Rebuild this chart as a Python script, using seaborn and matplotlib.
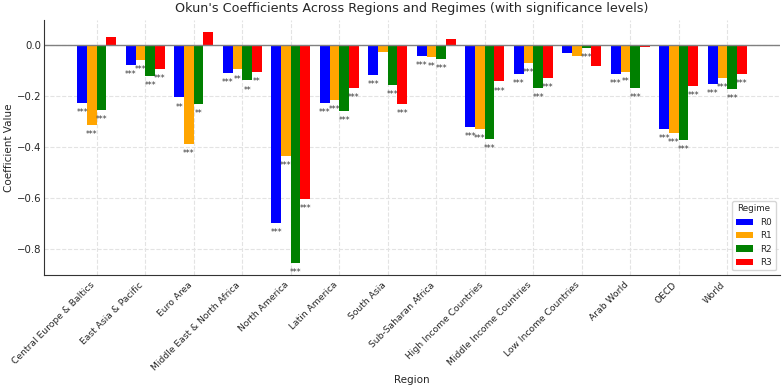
# Okun's coefficients by region and regime, with significance stars
import pandas as pd
import seaborn as sns
import matplotlib.pyplot as plt

regions = [
    "Central Europe & Baltics", "East Asia & Pacific", "Euro Area",
    "Middle East & North Africa", "North America", "Latin America",
    "South Asia", "Sub-Saharan Africa", "High Income Countries",
    "Middle Income Countries", "Low Income Countries", "Arab World",
    "OECD", "World",
]
regimes = ["R0", "R1", "R2", "R3"]
colors = ["blue", "orange", "green", "red"]

r0 = [-0.230, -0.080, -0.207, -0.110, -0.701, -0.227, -0.120, -0.043,
      -0.322, -0.116, -0.031, -0.116, -0.329, -0.154]
r1 = [-0.315, -0.061, -0.388, -0.097, -0.435, -0.216, -0.027, -0.048,
      -0.329, -0.072, -0.043, -0.106, -0.345, -0.131]
r2 = [-0.256, -0.122, -0.233, -0.140, -0.858, -0.260, -0.159, -0.056,
      -0.370, -0.170, -0.014, -0.171, -0.374, -0.174]
r3 = [0.031, -0.095, 0.052, -0.105, -0.607, -0.171, -0.234, 0.022,
      -0.144, -0.132, -0.085, -0.009, -0.163, -0.116]

sig0 = ["***", "***", "**", "***", "***", "***", "***", "***",
        "***", "***", "", "***", "***", "***"]
sig1 = ["***", "***", "***", "**", "***", "***", "", "**",
        "***", "***", "", "**", "***", "***"]
sig2 = ["***", "***", "**", "**", "***", "***", "***", "***",
        "***", "***", "***", "***", "***", "***"]
sig3 = ["", "***", "", "**", "***", "***", "***", "",
        "***", "***", "", "", "***", "***"]

values = [r0, r1, r2, r3]
sigs = [sig0, sig1, sig2, sig3]

rows = []
for regime, vals in zip(regimes, values):
    for region, v in zip(regions, vals):
        rows.append({"Region": region, "Regime": regime, "Coefficient Value": v})
df = pd.DataFrame(rows)

sns.set_style("whitegrid", {"grid.linestyle": "--", "grid.color": "#e3e3e3",
                            "axes.edgecolor": "#333333"})
plt.rcParams["font.family"] = ["DejaVu Sans"]

fig, ax = plt.subplots(figsize=(7.84, 3.91), dpi=100)
fig.subplots_adjust(left=0.056, right=0.995, top=0.949, bottom=0.297)

sns.barplot(data=df, x="Region", y="Coefficient Value", hue="Regime",
            hue_order=regimes, palette=colors, saturation=1, width=0.8,
            linewidth=0, ax=ax)

ax.axhline(0, color="gray", linewidth=1)

for container, sig in zip(ax.containers, sigs):
    for bar, s in zip(container, sig):
        if not s:
            continue
        h = bar.get_height()
        ax.text(bar.get_x() + bar.get_width() / 2, h - 0.02, s,
                ha="center", va="top", fontsize=5.5, color="#333333")

ax.set_xlim(-1.09, 14.09)
ax.set_ylim(-0.9035, 0.0975)
ax.set_yticks([0.0, -0.2, -0.4, -0.6, -0.8])
ax.tick_params(axis="x", labelsize=6.6, length=2, pad=2)
ax.tick_params(axis="y", labelsize=7.3, length=0, pad=2)
plt.setp(ax.get_xticklabels(), rotation=45, ha="right")
ax.set_xlabel("Region", fontsize=7.5, labelpad=2)
ax.set_ylabel("Coefficient Value", fontsize=7.5, labelpad=2)
ax.set_title("Okun's Coefficients Across Regions and Regimes (with significance levels)",
             fontsize=9.2)
sns.despine(ax=ax)
ax.grid(True, axis="both", linestyle="--", color="#e3e3e3")

leg = ax.legend(title="Regime", loc="lower right", fontsize=6.3,
                title_fontsize=6.3, frameon=True)

fig.savefig("out.png", dpi=100)
